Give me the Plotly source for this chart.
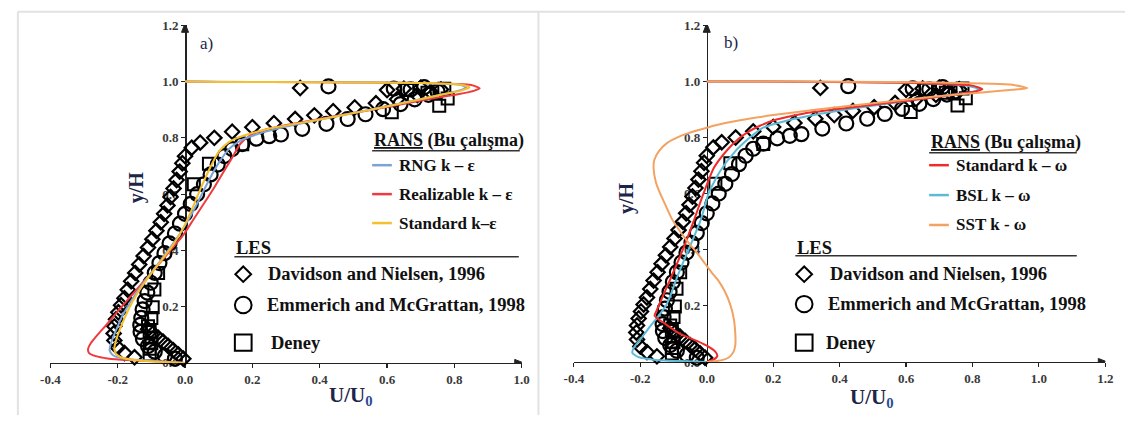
import plotly.graph_objects as go

W, H = 1133, 423


def fx(px):
    return px / W


def fy(py):
    return 1 - py / H


# ---------------- tick labels ----------------
x_ticks_a = [-0.4, -0.2, 0.0, 0.2, 0.4, 0.6, 0.8, 1.0]
x_text_a = ["-0.4", "-0.2", "0.0", "0.2", "0.4", "0.6", "0.8", "1.0"]
x_ticks_b = [-0.4, -0.2, 0.0, 0.2, 0.4, 0.6, 0.8, 1.0, 1.2]
x_text_b = ["-0.4", "-0.2", "0.0", "0.2", "0.4", "0.6", "0.8", "1.0", "1.2"]
y_ticks = [0.0, 0.2, 0.4, 0.6, 0.8, 1.0, 1.2]
y_text = ["0.0", "0.2", "0.4", "0.6", "0.8", "1.0", "1.2"]

# ---------------- panel a) RANS k-epsilon ----------------
rng_x = [0.0, -0.06, -0.14, -0.19, -0.215, -0.224, -0.22, -0.207, -0.185, -0.155, -0.12, -0.085, -0.05,
         -0.015, 0.02, 0.05, 0.08, 0.105, 0.13, 0.165, 0.22, 0.3, 0.42, 0.55, 0.67, 0.76, 0.81, 0.835,
         0.82, 0.7, 0.45, 0.2, 0.0]
rng_y = [0.0, 0.004, 0.01, 0.017, 0.028, 0.045, 0.07, 0.11, 0.17, 0.23, 0.29, 0.345, 0.4, 0.46, 0.53,
         0.6, 0.67, 0.72, 0.76, 0.79, 0.815, 0.84, 0.87, 0.9, 0.93, 0.953, 0.967, 0.978, 0.988, 0.995,
         0.998, 0.999, 1.0]

real_x = [0.0, -0.08, -0.17, -0.23, -0.265, -0.285, -0.288, -0.28, -0.26, -0.23, -0.195, -0.155, -0.115,
          -0.075, -0.04, -0.005, 0.025, 0.058, 0.09, 0.12, 0.145, 0.165, 0.195, 0.24, 0.33, 0.46, 0.6,
          0.72, 0.81, 0.86, 0.875, 0.85, 0.7, 0.4, 0.1, 0.0]
real_y = [0.0, 0.006, 0.01, 0.016, 0.024, 0.035, 0.05, 0.07, 0.1, 0.14, 0.19, 0.245, 0.3, 0.355, 0.405,
          0.455, 0.51, 0.57, 0.63, 0.69, 0.74, 0.78, 0.81, 0.83, 0.852, 0.88, 0.91, 0.937, 0.955, 0.968,
          0.976, 0.988, 0.995, 0.998, 0.999, 1.0]

std_x = [0.0, -0.08, -0.15, -0.19, -0.205, -0.21, -0.205, -0.19, -0.168, -0.14, -0.105, -0.07, -0.035,
         -0.005, 0.022, 0.05, 0.077, 0.1, 0.13, 0.18, 0.26, 0.4, 0.53, 0.66, 0.76, 0.82, 0.845, 0.82,
         0.7, 0.4, 0.1, 0.0]
std_y = [0.0, 0.004, 0.01, 0.02, 0.032, 0.05, 0.08, 0.13, 0.19, 0.25, 0.31, 0.365, 0.42, 0.48, 0.55,
         0.63, 0.7, 0.75, 0.785, 0.81, 0.835, 0.865, 0.895, 0.927, 0.953, 0.968, 0.979, 0.989, 0.995,
         0.998, 0.999, 1.0]

# ---------------- panel b) RANS k-omega ----------------
skw_x = [0.0, 0.02, 0.032, 0.025, 0.005, -0.03, -0.08, -0.123, -0.157, -0.152, -0.145, -0.108, -0.072,
         -0.04, -0.01, 0.022, 0.065, 0.095, 0.125, 0.16, 0.21, 0.29, 0.37, 0.53, 0.69, 0.8, 0.83, 0.8,
         0.6, 0.3, 0.0]
skw_y = [0.0, 0.008, 0.022, 0.038, 0.055, 0.075, 0.1, 0.134, 0.165, 0.18, 0.2, 0.3, 0.4, 0.5, 0.6,
         0.693, 0.76, 0.795, 0.82, 0.842, 0.864, 0.885, 0.898, 0.921, 0.944, 0.962, 0.972, 0.985, 0.995,
         0.999, 1.0]

bsl_x = [0.0, -0.08, -0.16, -0.205, -0.224, -0.22, -0.2, -0.175, -0.148, -0.123, -0.105, -0.09, -0.073,
         -0.055, -0.037, -0.02, -0.007, 0.005, 0.04, 0.085, 0.12, 0.14, 0.17, 0.24, 0.33, 0.45, 0.6,
         0.72, 0.8, 0.82, 0.78, 0.6, 0.3, 0.0]
bsl_y = [0.0, 0.003, 0.008, 0.017, 0.032, 0.05, 0.08, 0.12, 0.16, 0.2, 0.25, 0.3, 0.35, 0.4, 0.45, 0.5,
         0.55, 0.6, 0.68, 0.75, 0.79, 0.81, 0.835, 0.86, 0.882, 0.905, 0.93, 0.95, 0.962, 0.972, 0.985,
         0.995, 0.999, 1.0]

sst_x = [0.0, 0.035, 0.065, 0.08, 0.086, 0.086, 0.082, 0.072, 0.055, 0.035, 0.016, -0.005, -0.027,
         -0.055, -0.08, -0.105, -0.123, -0.14, -0.153, -0.16, -0.158, -0.145, -0.12, -0.08, -0.03, 0.03,
         0.1, 0.2, 0.32, 0.5, 0.68, 0.82, 0.92, 0.965, 0.92, 0.7, 0.4, 0.1, 0.0]
sst_y = [0.0, 0.004, 0.015, 0.035, 0.06, 0.1, 0.15, 0.2, 0.25, 0.29, 0.317, 0.35, 0.385, 0.425, 0.465,
         0.51, 0.556, 0.6, 0.64, 0.69, 0.72, 0.75, 0.78, 0.805, 0.825, 0.845, 0.862, 0.88, 0.898, 0.922,
         0.945, 0.96, 0.97, 0.976, 0.988, 0.996, 0.999, 1.0, 1.0]

# ---------------- LES / experiment (same in both panels) ----------------
dav_x = [-0.005, -0.02, -0.035, -0.05, -0.065, -0.08, -0.095, -0.11,
         -0.15, -0.18, -0.2, -0.21, -0.212, -0.21, -0.205, -0.198, -0.19, -0.18, -0.17, -0.16, -0.148,
         -0.136, -0.123, -0.11, -0.097, -0.085, -0.072, -0.062, -0.052, -0.043, -0.034, -0.025, -0.016,
         -0.008, 0.0, 0.02, 0.045, 0.087, 0.14, 0.2, 0.264, 0.327, 0.384, 0.44, 0.504, 0.567, 0.63,
         0.69, 0.73, 0.76, 0.7, 0.65, 0.6, 0.342]
dav_y = [0.015, 0.03, 0.045, 0.06, 0.075, 0.09, 0.105, 0.12,
         0.02, 0.035, 0.055, 0.08, 0.105, 0.13, 0.155, 0.18, 0.205, 0.23, 0.26, 0.29, 0.32,
         0.35, 0.38, 0.41, 0.44, 0.47, 0.5, 0.53, 0.56, 0.59, 0.62, 0.65, 0.68,
         0.71, 0.735, 0.765, 0.783, 0.8, 0.822, 0.838, 0.852, 0.867, 0.88, 0.895, 0.908, 0.923, 0.937,
         0.952, 0.963, 0.972, 0.978, 0.975, 0.97, 0.977]

emm_x = [-0.03, -0.06, -0.09, -0.11, -0.125, -0.132, -0.133, -0.13, -0.126, -0.12, -0.112, -0.102,
         -0.09, -0.076, -0.061, -0.046, -0.03, -0.015, 0.0, 0.017, 0.036, 0.056, 0.076, 0.097, 0.117,
         0.14, 0.17, 0.212, 0.25, 0.285, 0.348, 0.42, 0.483, 0.536, 0.588, 0.64, 0.682, 0.723, 0.75,
         0.67, 0.62, 0.71, 0.426]
emm_y = [0.015, 0.025, 0.04, 0.06, 0.085, 0.11, 0.135, 0.16, 0.19, 0.22, 0.25, 0.285, 0.32, 0.355,
         0.39, 0.425, 0.46, 0.495, 0.53, 0.565, 0.6, 0.635, 0.67, 0.705, 0.735, 0.76, 0.778, 0.797,
         0.806, 0.812, 0.832, 0.85, 0.867, 0.884, 0.902, 0.92, 0.937, 0.953, 0.965, 0.972, 0.975,
         0.98, 0.983]

deney_x = [-0.105, -0.105, -0.1, -0.1, -0.105, -0.11, -0.1, -0.096, -0.091, -0.08, 0.026, 0.071, 0.17,
           0.614, 0.755, 0.78, 0.72, 0.77, 0.66]
deney_y = [0.03, 0.05, 0.07, 0.09, 0.11, 0.13, 0.16, 0.198, 0.261, 0.32, 0.635, 0.708, 0.777, 0.891,
           0.914, 0.94, 0.96, 0.975, 0.97]

# ---------------- styles ----------------
SERIF = "Liberation Serif"
AXC = "#222222"
TICKC = "#3a3a3a"
NAVY = "#1c2548"
C_RNG = "#7ba3d6"
C_REAL = "#ef3b3f"
C_STD = "#f5bf2e"
C_SKW = "#ee2c2c"
C_BSL = "#5cbad6"
C_SST = "#f4a261"

fig = go.Figure()


def add_markers(xa, ya):
    fig.add_trace(go.Scatter(x=dav_x, y=dav_y, mode="markers", xaxis=xa, yaxis=ya, cliponaxis=False,
                             marker=dict(symbol="diamond-open", size=11, color="black",
                                         line=dict(width=2.2, color="black")),
                             showlegend=False, hoverinfo="skip"))
    fig.add_trace(go.Scatter(x=emm_x, y=emm_y, mode="markers", xaxis=xa, yaxis=ya, cliponaxis=False,
                             marker=dict(symbol="circle-open", size=14, color="black",
                                         line=dict(width=2.2, color="black")),
                             showlegend=False, hoverinfo="skip"))
    fig.add_trace(go.Scatter(x=deney_x, y=deney_y, mode="markers", xaxis=xa, yaxis=ya, cliponaxis=False,
                             marker=dict(symbol="square-open", size=12, color="black",
                                         line=dict(width=2, color="black")),
                             showlegend=False, hoverinfo="skip"))


def add_line(xs, ys, color, xa, ya):
    fig.add_trace(go.Scatter(x=xs, y=ys, mode="lines", xaxis=xa, yaxis=ya, cliponaxis=False,
                             line=dict(color=color, width=2, shape="spline", smoothing=0.6),
                             showlegend=False, hoverinfo="skip"))


add_markers("x", "y")
add_line(real_x, real_y, C_REAL, "x", "y")
add_line(rng_x, rng_y, C_RNG, "x", "y")
add_line(std_x, std_y, C_STD, "x", "y")

add_markers("x2", "y2")
add_line(bsl_x, bsl_y, C_BSL, "x2", "y2")
add_line(skw_x, skw_y, C_SKW, "x2", "y2")
add_line(sst_x, sst_y, C_SST, "x2", "y2")

tickfont = dict(family=SERIF, size=13, color=TICKC, weight="bold")

xa_dom = [fx(41), fx(520)]
xb_dom = [fx(573), fx(1113)]
ya_pos = xa_dom[0] + (0.4 / 1.4) * (xa_dom[1] - xa_dom[0])
yb_pos = xb_dom[0] + (0.4 / 1.6) * (xb_dom[1] - xb_dom[0])

common_x = dict(showline=True, linecolor=AXC, linewidth=1.5, ticks="outside", ticklen=4, tickwidth=1.2,
                tickcolor=AXC, showgrid=False, zeroline=False, tickfont=tickfont, layer="below traces",
                fixedrange=True)
common_y = dict(showline=True, linecolor=AXC, linewidth=1.5, ticks="outside", ticklen=4, tickwidth=1.2,
                tickcolor=AXC, showgrid=False, zeroline=False, tickfont=tickfont, layer="below traces",
                range=[0, 1.2], tickmode="array", tickvals=y_ticks, ticktext=y_text, fixedrange=True)

fig.update_layout(
    autosize=True,
    margin=dict(l=0, r=0, t=0, b=0),
    paper_bgcolor="white", plot_bgcolor="rgba(0,0,0,0)",
    showlegend=False,
    xaxis=dict(domain=xa_dom, range=[-0.4, 1.0], anchor="y", tickmode="array",
               tickvals=x_ticks_a, ticktext=x_text_a, **common_x),
    yaxis=dict(domain=[fy(369), fy(19)], anchor="free", position=ya_pos, **common_y),
    xaxis2=dict(domain=xb_dom, range=[-0.4, 1.2], anchor="y2", tickmode="array",
                tickvals=x_ticks_b, ticktext=x_text_b, **common_x),
    yaxis2=dict(domain=[fy(368), fy(19)], anchor="free", position=yb_pos, **common_y),
)

shapes = []
annotations = []

# panel frames
BORDER = "#e2e2e2"
shapes.append(dict(type="line", xref="paper", yref="paper", x0=fx(8), x1=1, y0=fy(5), y1=fy(5),
                   line=dict(color=BORDER, width=2)))
shapes.append(dict(type="line", xref="paper", yref="paper", x0=fx(8), x1=fx(8), y0=fy(5), y1=0,
                   line=dict(color=BORDER, width=2)))
shapes.append(dict(type="line", xref="paper", yref="paper", x0=fx(537), x1=fx(537), y0=fy(5), y1=0,
                   line=dict(color=BORDER, width=2)))

# axis arrowheads (pixel-sized triangles anchored at the axis ends)
for xr, yr, xend in (("x", "y", 1.0), ("x2", "y2", 1.2)):
    shapes.append(dict(type="path", xref=xr, yref=yr, xsizemode="pixel", ysizemode="pixel",
                       xanchor=xend, yanchor=0, path="M 2,0 L -7,3.5 L -7,-3.5 Z",
                       fillcolor=AXC, line=dict(color=AXC, width=1)))
    shapes.append(dict(type="path", xref=xr, yref=yr, xsizemode="pixel", ysizemode="pixel",
                       xanchor=0, yanchor=1.2, path="M 0,2 L -3.5,-7 L 3.5,-7 Z",
                       fillcolor=AXC, line=dict(color=AXC, width=1)))


def text(px, py, s, size, color="#111111", bold=True, xanchor="left", angle=0):
    annotations.append(dict(x=fx(px), y=fy(py), xref="paper", yref="paper", text=s, showarrow=False,
                            xanchor=xanchor, yanchor="middle", textangle=angle,
                            font=dict(family=SERIF, size=size, color=color,
                                      weight="bold" if bold else "normal")))


# panel labels and axis titles
text(200, 38, "a)", 17, NAVY, bold=False, xanchor="center")
text(733, 37, "b)", 17, NAVY, bold=False, xanchor="center")
text(128, 187, "y/H", 20, NAVY, xanchor="center", angle=-90)
text(627, 198, "y/H", 20, NAVY, xanchor="center", angle=-90)
text(347, 403, "U/U<sub><span style='color:#2a4c94'>0</span></sub>", 21, NAVY, xanchor="center")
text(876, 405, "U/U<sub><span style='color:#2a4c94'>0</span></sub>", 21, NAVY, xanchor="center")


def rans_legend(x0, yhead, yline, xline_end, items):
    text(x0, yhead, "<u>RANS</u> (Bu çalışma)", 18)
    shapes.append(dict(type="line", xref="paper", yref="paper", x0=fx(x0), x1=fx(xline_end),
                       y0=fy(yline), y1=fy(yline), line=dict(color="#333333", width=1.5)))
    for (label, color, yy) in items:
        shapes.append(dict(type="line", xref="paper", yref="paper", x0=fx(x0), x1=fx(x0 + 20),
                           y0=fy(yy), y1=fy(yy), line=dict(color=color, width=2.5)))
        text(x0 + 25, yy, label, 17)


def les_legend(x0, yhead, yline, xline_end, mx, ys, tx):
    text(x0, yhead, "LES", 18.5)
    shapes.append(dict(type="line", xref="paper", yref="paper", x0=fx(x0), x1=fx(xline_end),
                       y0=fy(yline), y1=fy(yline), line=dict(color="#333333", width=1.5)))
    yd = ys[0]
    r = 8
    shapes.append(dict(type="path", xref="paper", yref="paper",
                       path=f"M {fx(mx - r)},{fy(yd)} L {fx(mx)},{fy(yd - r)} L {fx(mx + r)},{fy(yd)} "
                            f"L {fx(mx)},{fy(yd + r)} Z",
                       line=dict(color="black", width=2)))
    text(tx[0], yd, "Davidson and Nielsen, 1996", 18.5)
    yc = ys[1]
    shapes.append(dict(type="circle", xref="paper", yref="paper", x0=fx(mx - 8.5), x1=fx(mx + 8.5),
                       y0=fy(yc + 8.5), y1=fy(yc - 8.5), line=dict(color="black", width=2)))
    text(tx[1], yc, "Emmerich and McGrattan, 1998", 18.5)
    ysq = ys[2]
    shapes.append(dict(type="rect", xref="paper", yref="paper", x0=fx(mx - 8.5), x1=fx(mx + 8.5),
                       y0=fy(ysq + 8.5), y1=fy(ysq - 8.5), line=dict(color="black", width=2)))
    text(tx[2], ysq, "Deney", 18.5)


rans_legend(368, 138, 149, 518,
            [("RNG k – ε", C_RNG, 164), ("Realizable k – ε", C_REAL, 194), ("Standard k–ε", C_STD, 224)])
rans_legend(934, 140, 151, 1084,
            [("Standard k – ω", C_SKW, 164), ("BSL k – ω", C_BSL, 195), ("SST k - ω", C_SST, 226)])
les_legend(228, 250, 259, 517, 237, [277, 309, 348], [260, 259, 263])
les_legend(798, 250, 258, 1084, 807, [277, 308, 348], [831, 829, 827])

fig.update_layout(shapes=shapes, annotations=annotations)

fig.write_html(
    "out.html",
    default_width="100vw",
    default_height="100vh",
    config={"displayModeBar": False, "staticPlot": True, "responsive": True},
    post_script="document.body.style.margin='0';document.body.style.padding='0';"
                "document.body.style.overflow='hidden';",
)
